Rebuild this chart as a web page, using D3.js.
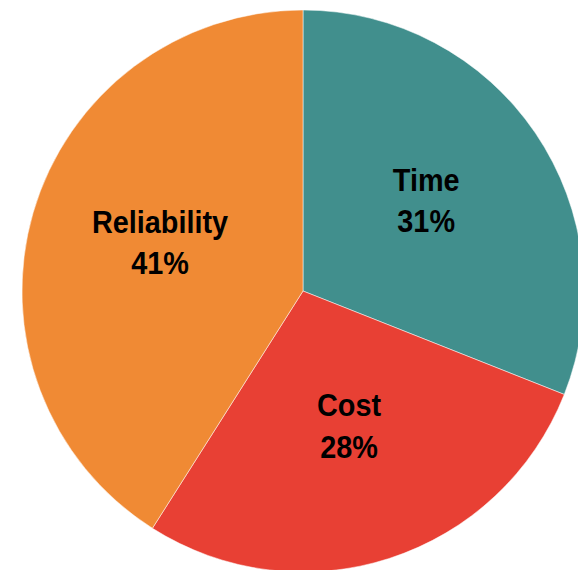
<!DOCTYPE html>
<html>
<head>
<meta charset="utf-8">
<script src="https://cdn.jsdelivr.net/npm/d3@7"></script>
<style>
  html, body { margin: 0; padding: 0; background: #fff; }
  svg { display: block; }
</style>
</head>
<body>
<div id="grafico"></div>
<script>
// dados do gráfico
const categorias = ["Time", "Cost", "Reliability"];
const valores = [31, 28, 41];
const cores = ["#418f8d", "#e84034", "#f08a34"];

const largura = 578;
const altura = 570;
const cx = 303, cy = 291, raio = 281;

const svg = d3.select("#grafico")
    .append("svg")
    .attr("width", largura)
    .attr("height", altura)
    .append("g")
    .attr("transform", "translate(" + cx + "," + cy + ")");

const dados = categorias.map((c, i) => ({ nome: c, valor: valores[i], cor: cores[i] }));

const pie = d3.pie()
    .value(d => d.valor)
    .sort(null);

const arc = d3.arc()
    .innerRadius(0)
    .outerRadius(raio);

const arcLabel = d3.arc()
    .innerRadius(raio * 0.53)
    .outerRadius(raio * 0.53);

const fatias = pie(dados);

svg.selectAll("path")
    .data(fatias)
    .enter().append("path")
    .attr("d", arc)
    .attr("fill", d => d.data.cor)
    .attr("stroke", "#ffffff")
    .attr("stroke-width", 0.5);

const total = d3.sum(valores);

const rotulos = svg.selectAll("g.rotulo")
    .data(fatias)
    .enter().append("g")
    .attr("class", "rotulo")
    .attr("transform", d => "translate(" + arcLabel.centroid(d) + ") scale(0.93,1.04)");

rotulos.append("text")
    .attr("text-anchor", "middle")
    .attr("font-family", "Liberation Sans, Arial, sans-serif")
    .attr("font-weight", "bold")
    .attr("font-size", "31px")
    .attr("fill", "#000")
    .attr("y", -16)
    .text(d => d.data.nome);

rotulos.append("text")
    .attr("text-anchor", "middle")
    .attr("font-family", "Liberation Sans, Arial, sans-serif")
    .attr("font-weight", "bold")
    .attr("font-size", "31px")
    .attr("fill", "#000")
    .attr("y", 24)
    .text(d => Math.round(d.data.valor / total * 100) + "%");
</script>
</body>
</html>
